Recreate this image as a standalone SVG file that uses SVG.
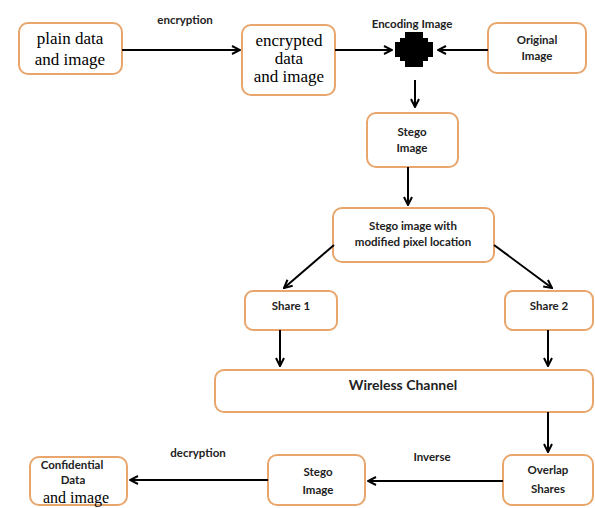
<svg xmlns="http://www.w3.org/2000/svg" width="595" height="508" viewBox="0 0 595 508">
<defs>
<marker id="ah" viewBox="0 0 10 10" refX="9" refY="5" markerWidth="5" markerHeight="5" orient="auto" markerUnits="strokeWidth">
<path d="M1,1 L9,5 L1,9" fill="none" stroke="#000" stroke-width="2"/>
</marker>
</defs>
<style>
.box{fill:#fff;stroke:#e8a66c;stroke-width:2}
.s{font-family:Lato,"Open Sans",sans-serif;font-weight:bold;font-size:11.5px;fill:#222;text-anchor:middle}
.r{font-family:"Liberation Serif",serif;font-size:17px;fill:#000;text-anchor:middle}
.c{stroke:#000;stroke-width:2;fill:none;marker-end:url(#ah)}
</style>
<rect width="595" height="508" fill="#fff"/>
<g id="plain">
<rect class="box" x="19" y="23" width="103" height="51" rx="9"/>
<text class="r" x="70" y="44">plain data</text>
<text class="r" x="70" y="65">and image</text>
</g>
<g id="encrypted">
<rect class="box" x="242" y="25" width="93" height="70" rx="9"/>
<text class="r" x="289" y="46">encrypted</text>
<text class="r" x="289" y="64">data</text>
<text class="r" x="289" y="82">and image</text>
</g>
<g id="encoding">
<text class="s" x="412" y="28">Encoding Image</text>
<polygon fill="#000" points="405,32 423,32 423,38 428,38 428,42 433,42 433,57 428,57 428,61 423,61 423,67 405,67 405,61 400,61 400,57 395,57 395,42 400,42 400,38 405,38"/>
</g>
<g id="original">
<rect class="box" x="488" y="23" width="98" height="50" rx="9"/>
<text class="s" x="537" y="44">Original</text>
<text class="s" x="537" y="60">Image</text>
</g>
<g id="stego1">
<rect class="box" x="367" y="113" width="91" height="54" rx="9"/>
<text class="s" x="412" y="136">Stego</text>
<text class="s" x="412" y="152">Image</text>
</g>
<g id="modified">
<rect class="box" x="333" y="208" width="161" height="54" rx="9"/>
<text class="s" x="413" y="230">Stego image with</text>
<text class="s" x="413" y="246">modified pixel location</text>
</g>
<g id="share1">
<rect class="box" x="245" y="291" width="92" height="39" rx="8"/>
<text class="s" x="291" y="310">Share 1</text>
</g>
<g id="share2">
<rect class="box" x="505" y="291" width="88" height="39" rx="8"/>
<text class="s" x="549" y="310">Share 2</text>
</g>
<g id="wireless">
<rect class="box" x="215" y="370" width="378" height="42" rx="9"/>
<text class="s" x="403" y="390" style="font-size:14px">Wireless Channel</text>
</g>
<g id="overlap">
<rect class="box" x="503" y="455" width="90" height="50" rx="9"/>
<text class="s" x="548" y="474">Overlap</text>
<text class="s" x="548" y="493">Shares</text>
</g>
<g id="stego2">
<rect class="box" x="268" y="455" width="97" height="50" rx="9"/>
<text class="s" x="318" y="476">Stego</text>
<text class="s" x="318" y="494">Image</text>
</g>
<g id="confidential">
<rect class="box" x="30" y="457" width="97" height="48" rx="9"/>
<text class="s" x="72" y="469">Confidential</text>
<text class="s" x="73" y="484">Data</text>
<text class="r" x="76" y="503" style="font-size:16px">and image</text>
</g>
<g id="labels">
<text class="s" x="185" y="24">encryption</text>
<text class="s" x="432" y="461">Inverse</text>
<text class="s" x="198" y="457">decryption</text>
</g>
<g id="connectors">
<line class="c" x1="122" y1="50" x2="240" y2="50"/>
<line class="c" x1="335" y1="50" x2="392" y2="50"/>
<line class="c" x1="488" y1="50" x2="438" y2="50"/>
<line class="c" x1="415" y1="80" x2="415" y2="107"/>
<line class="c" x1="408" y1="167" x2="408" y2="205"/>
<line class="c" x1="334" y1="245" x2="284" y2="288"/>
<line class="c" x1="494" y1="245" x2="552" y2="288"/>
<line class="c" x1="280" y1="330" x2="280" y2="366"/>
<line class="c" x1="548" y1="330" x2="548" y2="366"/>
<line class="c" x1="548" y1="412" x2="548" y2="452"/>
<line class="c" x1="503" y1="481" x2="368" y2="481"/>
<line class="c" x1="268" y1="480" x2="130" y2="480"/>
</g>
</svg>
